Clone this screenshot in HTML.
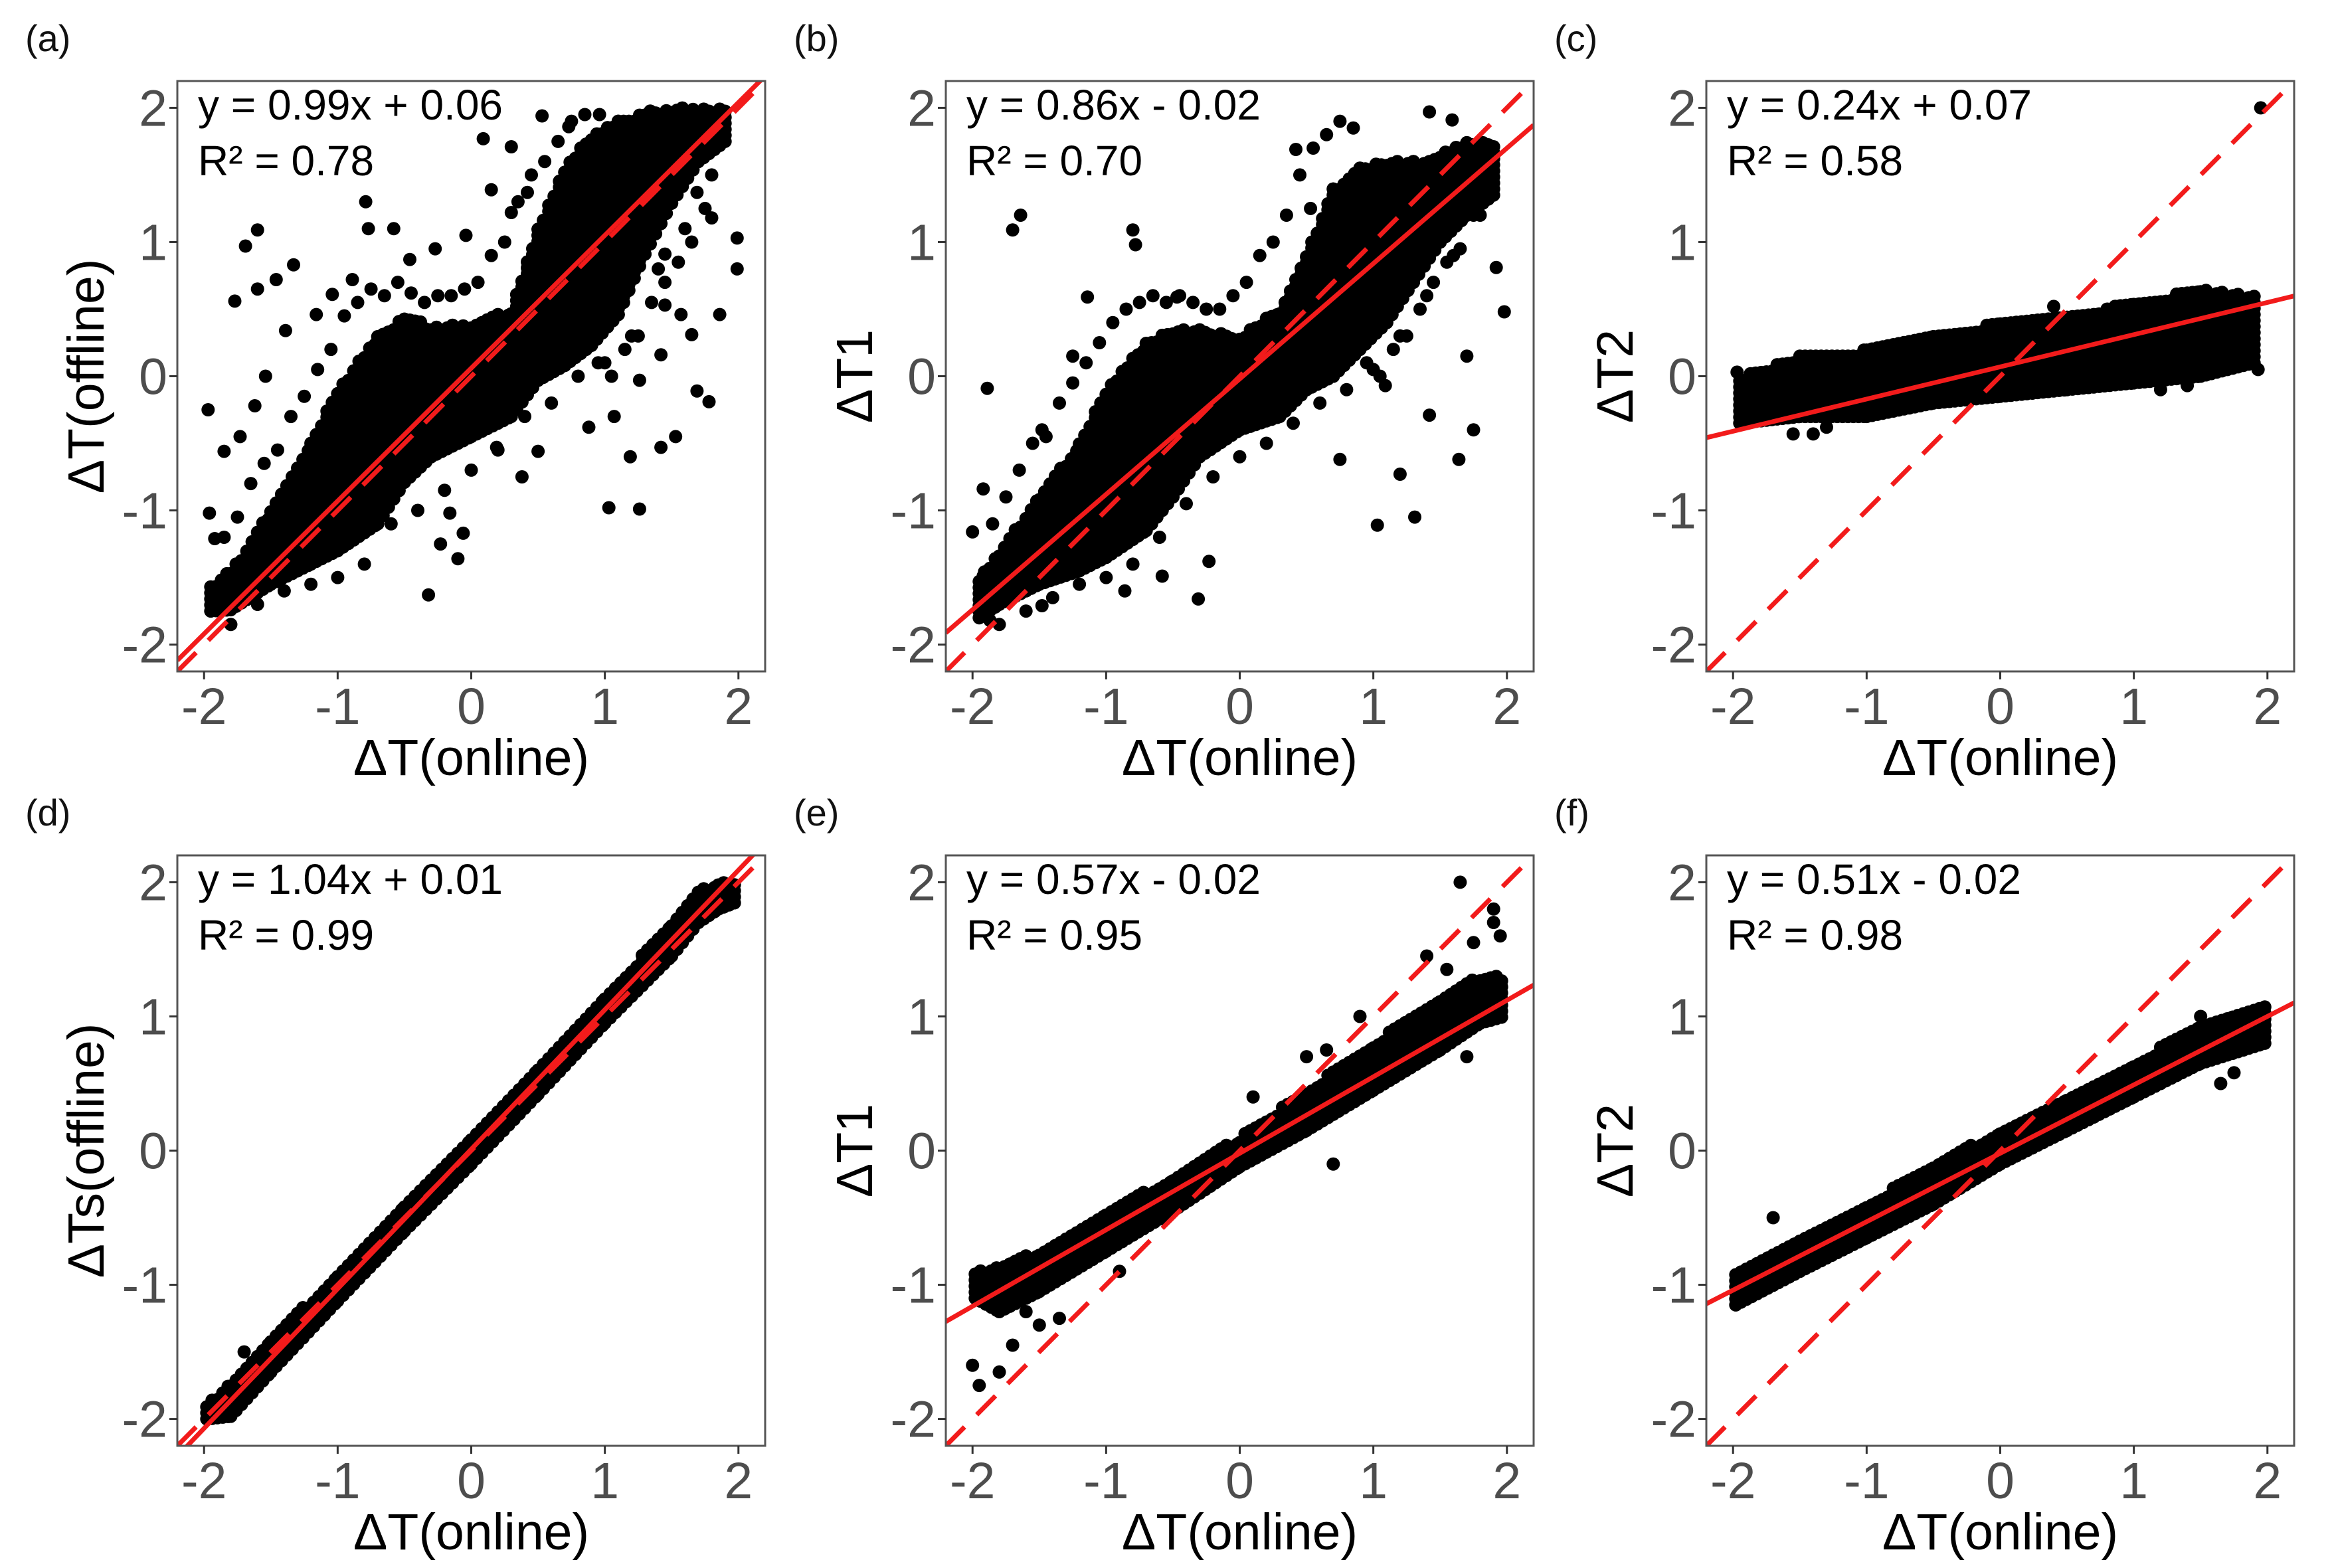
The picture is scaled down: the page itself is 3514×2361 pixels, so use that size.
<!DOCTYPE html>
<html><head><meta charset="utf-8"><style>
html,body{margin:0;padding:0;background:#fff;}
svg{display:block;}
text{font-family:"Liberation Sans",Arial,sans-serif;}
</style></head><body>
<svg id="fig" xmlns="http://www.w3.org/2000/svg" width="3514" height="2361" viewBox="0 0 3514 2361"></svg>
<script>
// ---------- data ----------
const panelIds = ["a","b","c","d","e","f"];
const yTitles = ["ΔT(offline)","ΔT1","ΔT2","ΔTs(offline)","ΔT1","ΔT2"];
const eqText = ["y = 0.99x + 0.06","y = 0.86x - 0.02","y = 0.24x + 0.07","y = 1.04x + 0.01","y = 0.57x - 0.02","y = 0.51x - 0.02"];
const r2Text = ["0.78","0.70","0.58","0.99","0.95","0.98"];
const slopes = [0.99,0.86,0.24,1.04,0.57,0.51];
const intercepts = [0.06,-0.02,0.07,0.01,-0.02,-0.02];
const tickVals = [-2,-1,0,1,2];
const tickLabels = ["-2","-1","0","1","2"];

// dense band: x positions, lower and upper y edges
const bandXA = [-1.95,-1.8,-1.5,-1.2,-1.0,-0.7,-0.5,-0.3,0,0.3,0.5,0.7,0.9,1.1,1.3,1.5,1.7,1.9];
const bandLoA = [-1.75,-1.74,-1.55,-1.4,-1.3,-1.1,-0.79,-0.6,-0.45,-0.3,-0.03,0.08,0.23,0.46,0.91,1.29,1.6,1.75];
const bandHiA = [-1.55,-1.45,-1.0,-0.5,-0.1,0.3,0.45,0.38,0.38,0.5,1.1,1.55,1.8,1.9,1.97,2.0,2.0,2.0];
const bandXB = [-1.95,-1.8,-1.5,-1.2,-1.0,-0.7,-0.5,-0.3,0,0.3,0.5,0.7,0.9,1.1,1.3,1.5,1.7,1.9];
const bandLoB = [-1.8,-1.7,-1.55,-1.45,-1.35,-1.15,-0.9,-0.6,-0.4,-0.3,-0.1,0.0,0.2,0.4,0.7,1.0,1.2,1.35];
const bandHiB = [-1.5,-1.3,-0.9,-0.5,-0.1,0.25,0.35,0.35,0.3,0.5,0.9,1.4,1.55,1.6,1.6,1.65,1.75,1.75];
const bandXC = [-1.95,-1.5,-1.0,-0.5,0,0.5,1.0,1.5,1.9];
const bandLoC = [-0.35,-0.3,-0.3,-0.2,-0.15,-0.1,-0.05,0.0,0.1];
const bandHiC = [0.0,0.15,0.2,0.3,0.4,0.45,0.55,0.65,0.6];
const bandXD = [-1.98,-1.8,-1.5,-1.0,-0.5,0,0.5,1.0,1.5,1.7,1.85,1.98];
const bandLoD = [-2.0,-1.98,-1.65,-1.12,-0.6,-0.1,0.42,0.95,1.45,1.7,1.8,1.85];
const bandHiD = [-1.9,-1.72,-1.4,-0.92,-0.4,0.1,0.62,1.15,1.7,1.95,2.0,2.0];
const bandXE = [-1.98,-1.8,-1.5,-1.0,-0.5,0,0.5,1.0,1.5,1.8,1.98];
const bandLoE = [-1.1,-1.2,-1.05,-0.75,-0.45,-0.12,0.15,0.45,0.75,0.95,1.0];
const bandHiE = [-0.9,-0.85,-0.75,-0.45,-0.2,0.1,0.45,0.8,1.15,1.3,1.3];
const bandXF = [-1.98,-1.5,-1.0,-0.5,0,0.5,1.0,1.5,1.98];
const bandLoF = [-1.15,-0.9,-0.65,-0.4,-0.1,0.15,0.4,0.65,0.8];
const bandHiF = [-0.9,-0.65,-0.4,-0.1,0.15,0.4,0.65,0.95,1.1];

// scattered points outside the dense band
const outXA = [-1.97,-1.69,-1.6,-1.77,-1.6,-1.33,-1.46,-0.79,-0.77,-0.58,-0.46,-0.27,-0.04,0.09,0.15,1.99,1.99,1.86,1.69,1.78,1.03,1.26,1.19,1.42,1.53,0.88,1.07,1.26,1.42,1.57,1.65,1.45,-0.32,-0.1,-0.06,-0.23,0.38,0.19,0.5,-0.16,-1.96,-1.92,-1.85,-1.73,-1.62,-1.54,-1.39,-1.16,-1.04,-0.89,0.53,0.73,0.96,0.3,0.42,0.3,1.45,1.8,1.69,1.07,
 -1.85,-1.75,-1.65,-1.55,-1.45,-1.35,-1.25,-1.15,-1.05,-0.95,-0.85,-0.75,-0.65,-0.55,-0.45,-0.35,-0.25,-0.15,-0.05,0.05,0.15,0.25,0.35,0.45,0.55,0.65,0.75,0.85,0.95,1.05,1.15,1.25,1.35,1.45,1.55,1.65,1.75,
 -1.8,-1.6,-1.4,-1.2,-1.0,-0.8,-0.6,-0.4,-0.2,0.0,0.2,0.4,0.6,0.8,1.0,1.2,1.4,1.6,1.8];
const outYA = [-0.25,0.97,1.09,0.56,0.65,0.83,0.72,1.3,1.1,1.1,0.87,0.95,1.05,1.77,1.39,1.03,0.8,0.46,-0.11,-0.19,-0.98,-0.99,-0.6,-0.53,-0.45,-0.38,-0.3,-0.03,0.16,0.46,0.31,0.53,-1.63,-1.36,-1.17,-1.25,-0.75,-0.53,-0.56,-1.02,-1.02,-1.21,-0.56,-0.45,-0.22,0,0.34,0.46,0.61,0.72,1.94,1.86,1.95,1.22,1.37,1.71,0.91,1.18,1.37,0.91,
 -1.2,-1.05,-0.8,-0.65,-0.55,-0.3,-0.15,0.05,0.2,0.45,0.55,0.65,0.6,0.7,0.62,0.55,0.6,0.6,0.65,0.7,0.9,1.0,1.3,1.5,1.6,1.75,1.9,1.95,0.1,0.0,0.2,0.3,0.55,0.7,0.85,1.0,1.25,
 -1.85,-1.7,-1.6,-1.55,-1.5,-1.4,-1.1,-1.0,-0.85,-0.7,-0.55,-0.3,-0.2,0.0,0.1,0.3,0.8,1.1,1.5];
const outXB = [-1.64,-1.7,-0.8,-0.78,-1.89,-1.92,-2.0,-1.92,-1.87,-1.48,-1.25,-1.14,-0.47,-0.31,-0.23,0.42,0.53,0.75,1.42,1.59,1.31,1.03,1.7,1.75,1.98,1.92,1.64,1.2,1.42,0.75,1.09,-1.25,-1.48,-0.86,-0.58,-0.92,
 -1.85,-1.75,-1.65,-1.55,-1.45,-1.35,-1.25,-1.15,-1.05,-0.95,-0.85,-0.75,-0.65,-0.55,-0.45,-0.35,-0.25,-0.15,-0.05,0.05,0.15,0.25,0.35,0.45,0.55,0.65,0.75,0.85,0.95,1.05,1.15,1.25,1.35,1.45,1.55,1.65,1.75,
 -1.8,-1.6,-1.4,-1.2,-1.0,-0.8,-0.6,-0.4,-0.2,0.0,0.2,0.4,0.6,0.8,1.0,1.2,1.4,1.6,1.8];
const outYB = [1.2,1.09,1.09,0.98,-0.09,-0.84,-1.16,-1.49,-1.82,-0.4,0.15,0.59,0.59,-1.66,-1.38,1.69,1.25,1.25,1.97,1.91,-1.05,-1.11,0.15,-0.4,0.48,0.81,-0.62,-0.73,-0.29,-0.62,-0.07,-1.38,-1.71,-1.6,-1.49,-0.29,
 -1.1,-0.9,-0.7,-0.5,-0.45,-0.2,-0.05,0.1,0.25,0.4,0.5,0.55,0.6,0.55,0.6,0.55,0.5,0.5,0.6,0.7,0.9,1.0,1.2,1.5,1.7,1.8,1.9,1.85,0.1,0.0,0.2,0.3,0.5,0.7,0.85,0.95,1.2,
 -1.85,-1.75,-1.65,-1.55,-1.5,-1.4,-1.2,-0.95,-0.75,-0.6,-0.5,-0.35,-0.2,-0.1,0.05,0.3,0.6,0.9,1.2];
const outXC = [1.95,-1.55,-1.4,-1.3,1.93,1.2,1.4,-1.97,0.4,0.8];
const outYC = [2.0,-0.43,-0.43,-0.38,0.05,-0.1,-0.07,0.03,0.52,0.5];
const outXD = [-1.7,-1.2,-0.6];
const outYD = [-1.5,-1.25,-0.65];
const outXE = [1.65,1.9,1.75,1.4,1.55,-2.0,-1.95,-1.8,-1.7,-1.5,-1.35,-1.6,-0.9,0.1,0.5,0.65,0.9,0.7,1.7,1.95,1.9];
const outYE = [2.0,1.8,1.55,1.45,1.35,-1.6,-1.75,-1.65,-1.45,-1.3,-1.25,-1.2,-0.9,0.4,0.7,0.75,1.0,-0.1,0.7,1.6,1.7];
const outXF = [-1.7,1.5,1.65,1.75];
const outYF = [-0.5,1.0,0.5,0.58];

const bandsX = [bandXA,bandXB,bandXC,bandXD,bandXE,bandXF];
const bandsLo = [bandLoA,bandLoB,bandLoC,bandLoD,bandLoE,bandLoF];
const bandsHi = [bandHiA,bandHiB,bandHiC,bandHiD,bandHiE,bandHiF];
const outsX = [outXA,outXB,outXC,outXD,outXE,outXF];
const outsY = [outYA,outYB,outYC,outYD,outYE,outYF];

// ---------- layout ----------
const colLeft = [267,1424,2569];
const rowTop = [122,1288];
const PW = 885, PH = 889;
const DMIN = -2.2, DMAX = 2.2;
const NS = "http://www.w3.org/2000/svg";
const svg = document.getElementById('fig');

function mk(tag, attrs, parent){
  const e = document.createElementNS(NS, tag);
  for (const k in attrs) e.setAttribute(k, attrs[k]);
  (parent||svg).appendChild(e);
  return e;
}

panelIds.forEach((pid, i) => {
  const L = colLeft[i%3], T = rowTop[Math.floor(i/3)];
  const sx = v => L + (v - DMIN) / (DMAX - DMIN) * PW;
  const sy = v => T + PH - (v - DMIN) / (DMAX - DMIN) * PH;

  const g = mk('g', {});
  
  

  const defs = mk('defs', {}, g);
  const cp = mk('clipPath', {id: 'clip-' + pid}, defs);
  mk('rect', {x: L, y: T, width: PW, height: PH}, cp);

  const lab = mk('text', {x: colLeft[i%3] - 229, y: T - 45, 'font-size': 56, fill: '#111'}, g);
  lab.textContent = '(' + pid + ')';
  
  

  const plot = mk('g', {'clip-path': 'url(#clip-' + pid + ')'}, g);
  
  

  const pts = mk('g', {fill: '#000'}, plot);
  
  
  const bx = bandsX[i], lo = bandsLo[i], hi = bandsHi[i];
  for (let k = 0; k < bx.length - 1; k++) {
    for (let x = bx[k]; x < bx[k+1] + 1e-9; x += 0.04) {
      const t = (x - bx[k]) / (bx[k+1] - bx[k]);
      const yl = lo[k] + t * (lo[k+1] - lo[k]);
      const yh = hi[k] + t * (hi[k+1] - hi[k]);
      for (let y = yl; y <= yh + 1e-9; y += 0.045) {
        mk('circle', {cx: sx(x).toFixed(1), cy: sy(y).toFixed(1), r: 10}, pts);
      }
    }
  }
  outsX[i].forEach((x, k) => {
    const c = mk('circle', {cx: sx(x).toFixed(1), cy: sy(outsY[i][k]).toFixed(1), r: 10}, pts);
    
    
  });

  const d = mk('line', {x1: sx(DMIN), y1: sy(DMIN), x2: sx(DMAX), y2: sy(DMAX), stroke: '#f21b1b', 'stroke-width': 7, 'stroke-dasharray': '40 26'}, plot);
  
  
  const f = mk('line', {x1: sx(DMIN), y1: sy(slopes[i]*DMIN + intercepts[i]), x2: sx(DMAX), y2: sy(slopes[i]*DMAX + intercepts[i]), stroke: '#f21b1b', 'stroke-width': 7}, plot);
  
  

  const fr = mk('rect', {x: L, y: T, width: PW, height: PH, fill: 'none', stroke: '#555', 'stroke-width': 3}, g);
  
  

  tickVals.forEach((v, k) => {
    const xt = mk('line', {x1: sx(v), y1: T + PH, x2: sx(v), y2: T + PH + 12, stroke: '#333', 'stroke-width': 3}, g);
    
    
    const xl = mk('text', {x: sx(v), y: T + PH + 79, 'font-size': 77, fill: '#4d4d4d', 'text-anchor': 'middle'}, g);
    xl.textContent = tickLabels[k];
    
    
    const yt = mk('line', {x1: L - 12, y1: sy(v), x2: L, y2: sy(v), stroke: '#333', 'stroke-width': 3}, g);
    
    
    const yl = mk('text', {x: L - 15, y: sy(v) + 27, 'font-size': 77, fill: '#4d4d4d', 'text-anchor': 'end'}, g);
    yl.textContent = tickLabels[k];
    
    
  });

  const xtTitle = mk('text', {x: L + PW/2, y: T + PH + 156, 'font-size': 77, fill: '#000', 'text-anchor': 'middle'}, g);
  xtTitle.textContent = 'ΔT(online)';
  
  
  const cx = L - 137, cy = T + PH/2;
  const ytTitle = mk('text', {x: cx, y: cy, 'font-size': 77, fill: '#000', 'text-anchor': 'middle', 'dominant-baseline': 'central', transform: 'rotate(-90 ' + cx + ' ' + cy + ')'}, g);
  ytTitle.textContent = yTitles[i];
  
  

  const eq = mk('text', {x: L + 31, y: T + 58, 'font-size': 64, fill: '#000'}, g);
  eq.textContent = eqText[i];
  
  
  const r2 = mk('text', {x: L + 31, y: T + 142, 'font-size': 64, fill: '#000'}, g);
  r2.textContent = 'R² = ' + r2Text[i];
  
  
});
</script>
</body></html>
